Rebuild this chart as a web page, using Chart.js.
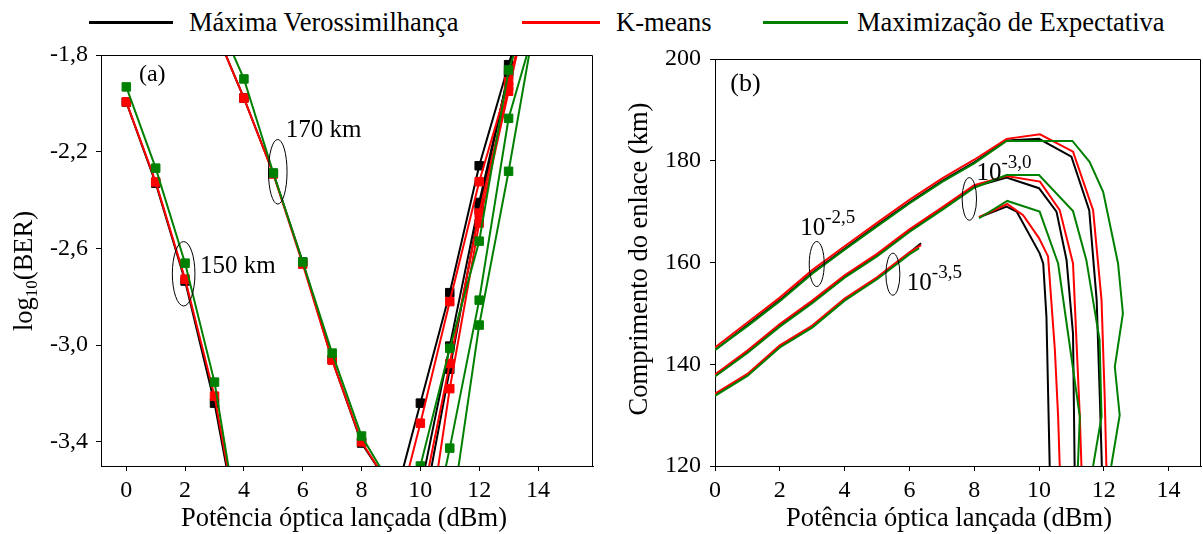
<!DOCTYPE html>
<html lang="pt">
<head>
<meta charset="UTF-8">
<title>BER x potência</title>
<style>
  body { margin: 0; background: #fff; }
  #wrap { position: relative; width: 1203px; height: 534px; overflow: hidden; font-family: "Liberation Serif", "Times New Roman", serif; }
  #boxA { position: absolute; left: 0; top: 0; width: 600px; height: 534px; }
  #boxB { position: absolute; left: 600px; top: 0; width: 603px; height: 534px; }
  .lin { position: absolute; top: 21px; height: 3px; }
  .txt { position: absolute; top: 10px; font-size: 26.5px; line-height: 25px; white-space: nowrap; color: #000; }
</style>
</head>
<body>
<div id="wrap">
  <div class="lin" style="left:89px;width:84px;background:#000"></div>
  <div class="txt" style="left:189px">Máxima Verossimilhança</div>
  <div class="lin" style="left:522px;width:78px;background:#ff0000"></div>
  <div class="txt" style="left:616px">K-means</div>
  <div class="lin" style="left:763px;width:85px;background:#008000"></div>
  <div class="txt" style="left:857px">Maximização de Expectativa</div>
  <div id="boxA"><canvas id="chartA"></canvas></div>
  <div id="boxB"><canvas id="chartB"></canvas></div>
</div>

<script src="https://cdn.jsdelivr.net/npm/chart.js"></script>
<script>
// ---------- (a) log10(BER) x potência ----------
const ticksXA = [0, 2, 4, 6, 8, 10, 12, 14];
const ticksYA = [-3.4, -3.0, -2.6, -2.2, -1.8];

// ramos descendentes (150 km e 170 km) e ramos ascendentes
const potQueda150 = [0, 1, 2, 3, 4];
const potQueda170 = [3, 4, 5, 6, 7, 8, 9];
const potSubida = [9, 10, 11, 12, 13, 14];

const mvQ150 = [-1.995, -2.33, -2.735, -3.24, -3.89];
const kmQ150 = [-1.994, -2.325, -2.727, -3.211, -3.88];
const emQ150 = [-1.932, -2.268, -2.661, -3.153, -3.89];

const mvQ170 = [-1.69, -1.978, -2.29, -2.656, -3.06, -3.405, -3.59];
const kmQ170 = [-1.69, -1.978, -2.292, -2.665, -3.062, -3.40, -3.59];
const emQ170 = [-1.62, -1.899, -2.288, -2.656, -3.033, -3.376, -3.58];

const mvS1 = [-3.70, -3.24, -2.783, -2.258, -1.84, -1.42];
const mvS2 = [null, -3.60, -3.004, -2.41, -1.88, -1.35];
const mvS3 = [null, -3.75, -3.10, -2.44, -1.87, -1.30];
const kmS1 = [-3.80, -3.323, -2.82, -2.324, -1.91, -1.50];
const kmS2 = [null, -3.68, -3.076, -2.454, -1.93, -1.40];
const kmS3 = [null, -4.00, -3.18, -2.495, -1.95, -1.40];
const emS1 = [-3.95, -3.50, -3.013, -2.57, -1.862, -1.50];
const emS2 = [null, -4.00, -3.426, -2.814, -2.062, -1.64];
const emS3 = [null, null, -3.75, -2.917, -2.281, -1.59];

// ---------- (b) comprimento do enlace x potência ----------
const ticksXB = [0, 2, 4, 6, 8, 10, 12, 14];
const ticksYB = [120, 140, 160, 180, 200];

// BER 10^-2,5
const potMV25 = [0, 1, 2, 3, 4, 5, 6, 7, 8, 9, 10, 11, 11.55, 11.78, 11.88, 11.94];
const compMV25 = [142.8, 147.7, 152.6, 158.0, 162.7, 167.3, 171.8, 176.0, 179.7, 184.0, 184.3, 180.8, 170.3, 152.6, 133, 120];
const potKM25 = [0, 1, 2, 3, 4, 5, 6, 7, 8, 9, 10.03, 11.05, 11.67, 11.93, 12.03, 12.08];
const compKM25 = [143.3, 148.2, 153.1, 158.5, 163.2, 167.8, 172.3, 176.5, 180.2, 184.3, 185.2, 181.8, 170.3, 152.6, 133, 120];
const potEM25 = [0, 1, 2, 3, 4, 5, 6, 7, 8, 9, 11.03, 11.56, 11.98, 12.44, 12.59, 12.34, 12.49, 12.23];
const compEM25 = [142.8, 147.5, 152.4, 157.8, 162.5, 167.1, 171.6, 175.8, 179.5, 183.9, 183.9, 179.8, 173.9, 159.8, 150, 139.5, 130, 120];

// BER 10^-3,0
const potMV30 = [0, 1, 2, 3, 4, 5, 6, 7, 8, 9, 10, 10.54, 10.85, 11.05, 11.1];
const compMV30 = [137.7, 142.4, 147.6, 152.2, 157.2, 161.4, 166.2, 170.5, 174.9, 176.7, 174.6, 170.0, 160.5, 146, 120];
const potKM30 = [0, 1, 2, 3, 4, 5, 6, 7, 8, 9, 10.03, 10.64, 11.05, 11.26, 11.31];
const compKM30 = [138.0, 142.7, 147.9, 152.5, 157.5, 161.7, 166.5, 170.8, 175.2, 177.0, 175.9, 170.3, 159.8, 129.7, 120];
const potEM30 = [0, 1, 2, 3, 4, 5, 6, 7, 8, 9, 10, 11.05, 11.46, 11.87, 11.93, 11.67];
const compEM30 = [137.6, 142.2, 147.4, 152.0, 157.0, 161.2, 166.0, 170.3, 174.7, 177.2, 177.2, 170.1, 160.5, 144.8, 129.7, 120];

// BER 10^-3,5 (curva interrompida entre ~6,4 e ~8,1 dBm)
const potMV35 = [0, 1, 2, 3, 4, 5, 6, 6.36, null, 8.15, 9, 9.31, 10.02, 10.13, 10.23, 10.33];
const compMV35 = [134.0, 137.9, 143.5, 147.4, 152.7, 156.9, 161.9, 163.8, null, 168.9, 171.0, 170.0, 161.8, 159.8, 149.3, 120];
const potKM35 = [0, 1, 2, 3, 4, 5, 6, 6.36, null, 8.15, 9.02, 9.51, 10, 10.28, 10.49, 10.59, 10.64];
const compKM35 = [134.2, 138.1, 143.7, 147.6, 152.9, 157.1, 162.0, 163.4, null, 168.9, 171.5, 169.3, 164.8, 161.2, 142.8, 129.7, 120];
const potEM35 = [0, 1, 2, 3, 4, 5, 6, 6.3, null, 8.15, 9.02, 10.02, 10.59, 11.26, 11.2];
const compEM35 = [133.8, 137.7, 143.3, 147.2, 152.5, 156.7, 161.6, 162.8, null, 168.7, 172.1, 170.0, 159.8, 129.7, 120];

const PRETO = '#000000', VERMELHO = '#ff0000', VERDE = '#008000';
const FONTE = '"Liberation Serif", "Times New Roman", serif';

Chart.defaults.color = '#000';
Chart.defaults.font.family = FONTE;

function pts(xs, ys) {
    return xs.map((x, i) => ({x: x, y: ys[i]}));
}

function serieA(xs, ys, cor, ordem) {
    return {
        data: pts(xs, ys),
        borderColor: cor, backgroundColor: cor, borderWidth: 2,
        pointStyle: 'rect', pointRadius: 6, pointBorderWidth: 1,
        pointBackgroundColor: cor, pointBorderColor: cor,
        tension: 0, order: ordem
    };
}

function serieB(xs, ys, cor, ordem) {
    return {
        data: pts(xs, ys),
        borderColor: cor, backgroundColor: cor, borderWidth: 2,
        pointRadius: 0, tension: 0, order: ordem
    };
}

function eixoX(min, max, marcas) {
    return {
        type: 'linear', min: min, max: max,
        afterBuildTicks: s => { s.ticks = marcas.map(v => ({value: v})); },
        afterFit: s => { s.height = 68; },
        ticks: {font: {size: 24}, color: '#000', padding: 5, maxRotation: 0, autoSkip: false,
                callback: v => String(v)},
        grid: {drawOnChartArea: false, color: '#000', tickLength: 5},
        border: {color: '#000', width: 1}
    };
}

function eixoY(min, max, marcas, largura, pad, fmt) {
    return {
        type: 'linear', min: min, max: max,
        afterBuildTicks: s => { s.ticks = marcas.map(v => ({value: v})); },
        afterFit: s => { s.width = largura; },
        ticks: {font: {size: 24}, color: '#000', padding: pad, autoSkip: false, callback: fmt},
        grid: {drawOnChartArea: false, color: '#000', tickLength: 5},
        border: {color: '#000', width: 1}
    };
}

// moldura, títulos e anotações desenhados sobre o gráfico
function decor(cfg) {
    return {
        id: 'decor',
        afterDraw(chart) {
            const ctx = chart.ctx, a = chart.chartArea, sx = chart.scales.x, sy = chart.scales.y;
            ctx.save();
            ctx.strokeStyle = '#000';
            ctx.lineWidth = 1;
            ctx.beginPath();
            const t = Math.round(a.top) + 0.5, r = Math.round(a.right) - 0.5;
            ctx.moveTo(a.left, t); ctx.lineTo(r, t); ctx.lineTo(r, a.bottom);
            ctx.stroke();

            ctx.fillStyle = '#000';
            ctx.textAlign = 'left';
            ctx.textBaseline = 'alphabetic';

            // título do eixo x
            ctx.font = '26.5px ' + FONTE;
            ctx.textAlign = 'center';
            ctx.fillText(cfg.tituloX, cfg.tituloXPos[0], cfg.tituloXPos[1]);
            ctx.textAlign = 'left';

            // título do eixo y (rotacionado, com subscrito opcional)
            ctx.save();
            ctx.translate(cfg.tituloYPos[0], cfg.tituloYPos[1]);
            ctx.rotate(-Math.PI / 2);
            const partes = cfg.tituloY;
            let larg = 0;
            partes.forEach(p => { ctx.font = (p.sub ? '17px ' : '26.5px ') + FONTE; larg += ctx.measureText(p.t).width; });
            let px = -larg / 2;
            partes.forEach(p => {
                ctx.font = (p.sub ? '17px ' : '26.5px ') + FONTE;
                ctx.fillText(p.t, px, p.sub ? 5 : 0);
                px += ctx.measureText(p.t).width;
            });
            ctx.restore();

            // textos
            cfg.textos.forEach(n => {
                const x = sx.getPixelForValue(n.x), y = sy.getPixelForValue(n.y);
                ctx.font = n.tam + 'px ' + FONTE;
                ctx.fillText(n.t, x, y);
                if (n.sup) {
                    const w = ctx.measureText(n.t).width;
                    ctx.font = '19px ' + FONTE;
                    ctx.fillText(n.sup, x + w, y - 12);
                }
            });

            // elipses
            ctx.lineWidth = 1;
            cfg.elipses.forEach(e => {
                ctx.beginPath();
                ctx.ellipse(sx.getPixelForValue(e.x), sy.getPixelForValue(e.y), e.rx, e.ry, 0, 0, Math.PI * 2);
                ctx.stroke();
            });
            ctx.restore();
        }
    };
}

const dsA = [
    serieA(potQueda150, mvQ150, PRETO, 2), serieA(potQueda170, mvQ170, PRETO, 2),
    serieA(potSubida, mvS1, PRETO, 2), serieA(potSubida, mvS2, PRETO, 2), serieA(potSubida, mvS3, PRETO, 2),
    serieA(potQueda150, kmQ150, VERMELHO, 1), serieA(potQueda170, kmQ170, VERMELHO, 1),
    serieA(potSubida, kmS1, VERMELHO, 1), serieA(potSubida, kmS2, VERMELHO, 1), serieA(potSubida, kmS3, VERMELHO, 1),
    serieA(potQueda150, emQ150, VERDE, 0), serieA(potQueda170, emQ170, VERDE, 0),
    serieA(potSubida, emS1, VERDE, 0), serieA(potSubida, emS2, VERDE, 0), serieA(potSubida, emS3, VERDE, 0)
];

new Chart(document.getElementById('chartA'), {
    type: 'line',
    data: {datasets: dsA},
    options: {
        animation: false, responsive: true, maintainAspectRatio: false, devicePixelRatio: 1,
        events: [],
        layout: {padding: {top: 55, right: 2, left: 0, bottom: 0}},
        plugins: {legend: {display: false}, tooltip: {enabled: false}},
        scales: {
            x: eixoX(-0.86, 15.87, ticksXA),
            y: eixoY(-3.5, -1.8, ticksYA, 101, 8, v => v.toFixed(1).replace('.', ','))
        }
    },
    plugins: [decor({
        tituloX: 'Potência óptica lançada (dBm)', tituloXPos: [344, 526],
        tituloY: [{t: 'log'}, {t: '10', sub: true}, {t: '(BER)'}], tituloYPos: [32, 271],
        textos: [
            {t: '(a)', x: 0.43, y: -1.9075, tam: 24},
            {t: '170 km', x: 5.42, y: -2.139, tam: 25},
            {t: '150 km', x: 2.51, y: -2.702, tam: 25}
        ],
        elipses: [
            {x: 5.15, y: -2.283, rx: 9.3, ry: 32.3},
            {x: 1.95, y: -2.705, rx: 11.3, ry: 32.2}
        ]
    })]
});

const dsB = [
    serieB(potMV25, compMV25, PRETO, 2), serieB(potMV30, compMV30, PRETO, 2), serieB(potMV35, compMV35, PRETO, 2),
    serieB(potKM25, compKM25, VERMELHO, 1), serieB(potKM30, compKM30, VERMELHO, 1), serieB(potKM35, compKM35, VERMELHO, 1),
    serieB(potEM25, compEM25, VERDE, 0), serieB(potEM30, compEM30, VERDE, 0), serieB(potEM35, compEM35, VERDE, 0)
];

new Chart(document.getElementById('chartB'), {
    type: 'line',
    data: {datasets: dsB},
    options: {
        animation: false, responsive: true, maintainAspectRatio: false, devicePixelRatio: 1,
        events: [],
        layout: {padding: {top: 59, right: 2, left: 0, bottom: 0}},
        plugins: {legend: {display: false}, tooltip: {enabled: false}},
        scales: {
            x: eixoX(0, 15, ticksXB),
            y: eixoY(120, 200, ticksYB, 115, 9, v => String(v))
        }
    },
    plugins: [decor({
        tituloX: 'Potência óptica lançada (dBm)', tituloXPos: [349, 526],
        tituloY: [{t: 'Comprimento do enlace (km)'}], tituloYPos: [47, 259],
        textos: [
            {t: '(b)', x: 0.47, y: 193.7, tam: 26},
            {t: '10', sup: '-2,5', x: 2.63, y: 165.4, tam: 25},
            {t: '10', sup: '-3,0', x: 8.07, y: 176.2, tam: 25},
            {t: '10', sup: '-3,5', x: 5.92, y: 154.6, tam: 25}
        ],
        elipses: [
            {x: 3.14, y: 159.7, rx: 7.5, ry: 22.5},
            {x: 7.85, y: 172.5, rx: 7.2, ry: 21.3},
            {x: 5.49, y: 157.7, rx: 7, ry: 21}
        ]
    })]
});
</script>
</body>
</html>
